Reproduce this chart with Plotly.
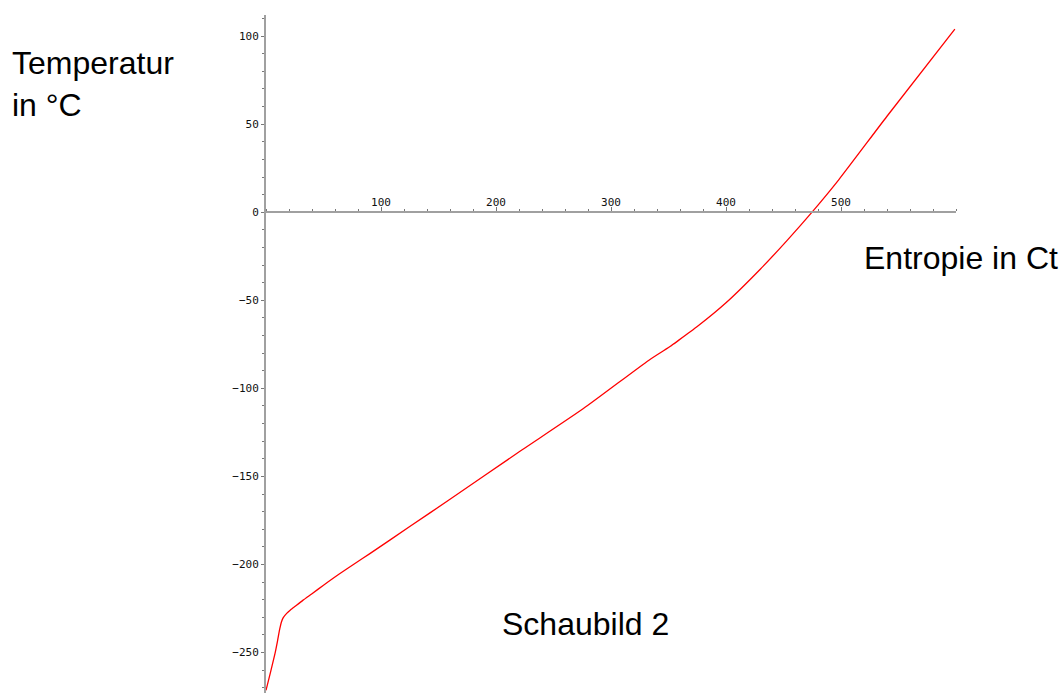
import plotly.graph_objects as go

# Data (Entropie in Ct, Temperatur in °C)
entropy = [0, 4, 7.8, 10, 12, 13.5, 15, 18, 21, 24, 32, 40, 50, 64, 77, 90, 125, 160,
           218, 276, 333, 352, 354, 375, 400, 430, 453, 475, 498, 540, 599]
temperature = [-271.5, -261, -250.7, -243.5, -236.5, -232.5, -230.2, -227.8, -226, -224.5,
               -220.4, -216.6, -211.8, -205.3, -199.6, -194, -178.5, -163,
               -137, -111.5, -84, -76, -75, -64.9, -51.4, -32.2, -16.1, 0.2, 18.4, 54.5, 104]

x_ticks = [100, 200, 300, 400, 500]
y_ticks = [-250, -200, -150, -100, -50, 0, 50, 100]

x_range = [0, 600]
y_range = [-273, 112]

fig = go.Figure()
fig.add_trace(go.Scatter(x=entropy, y=temperature, mode="lines",
                         line=dict(color="#ff0000", width=1.3, shape="spline", smoothing=0.6),
                         showlegend=False, hoverinfo="skip"))

tickfont = dict(family="DejaVu Sans Mono", size=11, color="#111111")
axis_col = "#a0a0a0"

fig.update_layout(
    width=1064, height=693,
    margin=dict(l=266, r=108, t=15, b=0),
    paper_bgcolor="white", plot_bgcolor="white",
    xaxis=dict(range=x_range, anchor="free",
               position=(0 - y_range[0]) / (y_range[1] - y_range[0]),
               side="top", showline=True, linecolor=axis_col, linewidth=2,
               showgrid=False, zeroline=False,
               tickmode="array", tickvals=x_ticks, ticks="outside",
               ticklen=4, tickcolor="#777777", tickwidth=1, tickfont=tickfont,
               ticklabelstandoff=-3,
               minor=dict(dtick=20, tick0=0, ticks="outside", ticklen=2,
                          tickcolor="#777777", showgrid=False)),
    yaxis=dict(range=y_range, showline=True, linecolor=axis_col, linewidth=2,
               showgrid=False, zeroline=False,
               tickmode="array", tickvals=y_ticks, ticks="outside",
               ticklen=3, tickcolor="#777777", tickwidth=1, tickfont=tickfont,
               minor=dict(dtick=10, tick0=0, ticks="outside", ticklen=2,
                          tickcolor="#777777", showgrid=False)),
)

# screen-pixel -> paper fraction (plot area spans screen x 266..956, y 15..693)
pw, ph = 690.0, 678.0
def px(xp):
    return (xp - 266) / pw
def py(yp):
    return (693 - yp) / ph

txtfont = dict(family="Liberation Sans, Arial", size=32, color="black")
fig.add_annotation(text="Temperatur<br>in °C", xref="paper", yref="paper",
                   x=px(10), y=py(84), xanchor="left", yanchor="middle",
                   align="left", showarrow=False, font=txtfont)
fig.add_annotation(text="Entropie in Ct", xref="paper", yref="paper",
                   x=px(862), y=py(258), xanchor="left", yanchor="middle",
                   showarrow=False, font=txtfont)
fig.add_annotation(text="Schaubild 2", xref="paper", yref="paper",
                   x=px(585), y=py(624), xanchor="center", yanchor="middle",
                   showarrow=False, font=txtfont)

fig.write_html("out.html", config={"displayModeBar": False},
               post_script="document.body.style.margin='0';document.body.style.overflow='hidden';")
